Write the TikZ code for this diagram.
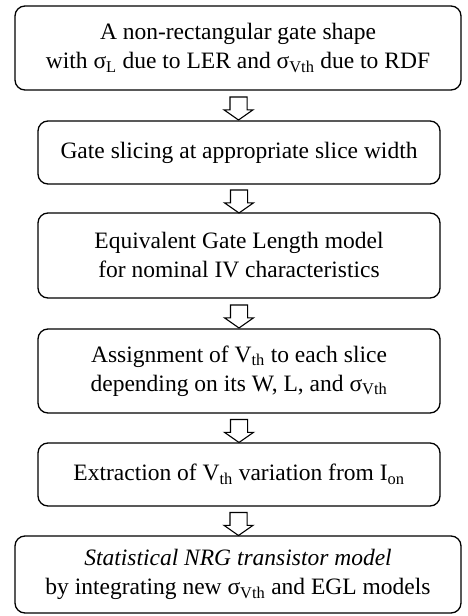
\documentclass[tikz,border=0pt]{standalone}
\usepackage{fontspec}
\setmainfont{Liberation Serif}
\usetikzlibrary{shapes.arrows}

\begin{document}
\begin{tikzpicture}[x=1pt,y=-1pt,
stage/.style={draw,rounded corners=10pt,line width=1.3pt,align=center,inner sep=0pt,
  font=\fontsize{23.5}{29}\selectfont},
down arrow/.style={draw,fill=white,single arrow,rotate=-90,line width=1.1pt,
  inner xsep=0pt,inner ysep=8pt,single arrow head extend=6pt,
  single arrow tip angle=110,minimum height=23pt}]
\useasboundingbox (0,0) rectangle (467,616);
\def\wide{446};
\def\narrow{402};
\node[stage,minimum width=\wide,minimum height=84] (shape) at (238,48)
  {A non-rectangular gate shape\\with σ\textsubscript{L} due to LER and σ\textsubscript{Vth} due to RDF};
\node[stage,minimum width=\narrow,minimum height=63] (slice) at (239,152.5)
  {Gate slicing at appropriate slice width};
\node[stage,minimum width=\narrow,minimum height=85] (egl) at (239,255.5)
  {Equivalent Gate Length model\\for nominal IV characteristics};
\node[stage,minimum width=\narrow,minimum height=84] (assign) at (239,371)
  {Assignment of V\textsubscript{th} to each slice\\depending on its W, L, and σ\textsubscript{Vth}};
\node[stage,minimum width=\narrow,minimum height=63] (extract) at (239,474.5)
  {Extraction of V\textsubscript{th} variation from I\textsubscript{on}};
\node[stage,minimum width=\wide,minimum height=77] (model) at (238,574.5)
  {\textit{Statistical NRG transistor model}\\by integrating new σ\textsubscript{Vth} and EGL models};

\path (shape.south) -- node[down arrow] (a1) {} (slice.north);
\path (slice.south) -- node[down arrow] (a2) {} (egl.north);
\path (egl.south) -- node[down arrow] (a3) {} (assign.north);
\path (assign.south) -- node[down arrow] (a4) {} (extract.north);
\path (extract.south) -- node[down arrow] (a5) {} (model.north);
\end{tikzpicture}
\end{document}
